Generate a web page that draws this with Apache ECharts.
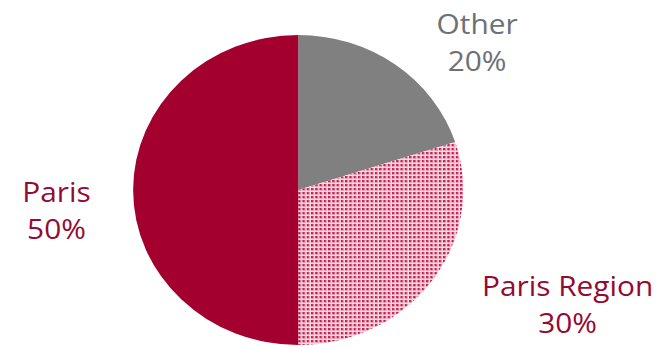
<!DOCTYPE html>
<html>
<head>
<meta charset="utf-8">
<script src="https://cdn.jsdelivr.net/npm/echarts@6/dist/echarts.min.js"></script>
<style>
  html, body { margin: 0; padding: 0; background: #fff; overflow: hidden; }
  #wrap { width: 669px; height: 348px; overflow: hidden; }
  /* the pie is drawn slightly wider than tall */
  #chart { width: 628px; height: 348px; transform: scaleX(1.065); transform-origin: 0 0; }
</style>
</head>
<body>
<div id="wrap"><div id="chart"></div></div>
<script>
const categories = ['Other', 'Paris Region', 'Paris'];
const shares = [20, 30, 50];

const CRIMSON = '#a3002f';
const TEXT_CRIMSON = '#950a32';
const GREY = '#808080';
const TEXT_GREY = '#6b7177';

// dotted fill for the Paris Region slice
function dotPattern() {
  const c = document.createElement('canvas');
  c.width = 4; c.height = 4;
  const g = c.getContext('2d');
  g.fillStyle = '#f6dce4';
  g.fillRect(0, 0, 4, 4);
  g.fillStyle = '#e79cb2';
  g.fillRect(0, 0, 3, 3);
  g.fillStyle = '#c0234f';
  g.fillRect(0, 0, 2, 2);
  return c.toDataURL();
}

// label anchor points (in chart coordinates, before the horizontal stretch)
const labelAnchors = [
  { x: 448, y: 41 },
  { x: 533, y: 303 },
  { x: 53, y: 209 }
];
const labelColors = [TEXT_GREY, TEXT_CRIMSON, TEXT_CRIMSON];
const sliceFills = [GREY, { image: dotPattern(), repeat: 'repeat' }, CRIMSON];

const chart = echarts.init(document.getElementById('chart'), null, { renderer: 'svg' });
chart.setOption({
  animation: false,
  series: [{
    type: 'pie',
    center: [280, 190],
    radius: 155,
    startAngle: 90,
    clockwise: true,
    avoidLabelOverlap: false,
    data: categories.map((name, i) => ({
      name,
      value: shares[i],
      itemStyle: { color: sliceFills[i] },
      label: { color: labelColors[i] }
    })),
    itemStyle: { borderWidth: 0 },
    label: {
      show: true,
      formatter: '{b}\n{d}%',
      fontFamily: 'Open Sans',
      fontSize: 28,
      lineHeight: 37,
      align: 'center'
    },
    labelLine: { show: false },
    labelLayout: function (p) {
      const a = labelAnchors[p.dataIndex];
      return { x: a.x, y: a.y, align: 'center', verticalAlign: 'middle' };
    },
    emphasis: { disabled: true }
  }]
});
</script>
</body>
</html>
